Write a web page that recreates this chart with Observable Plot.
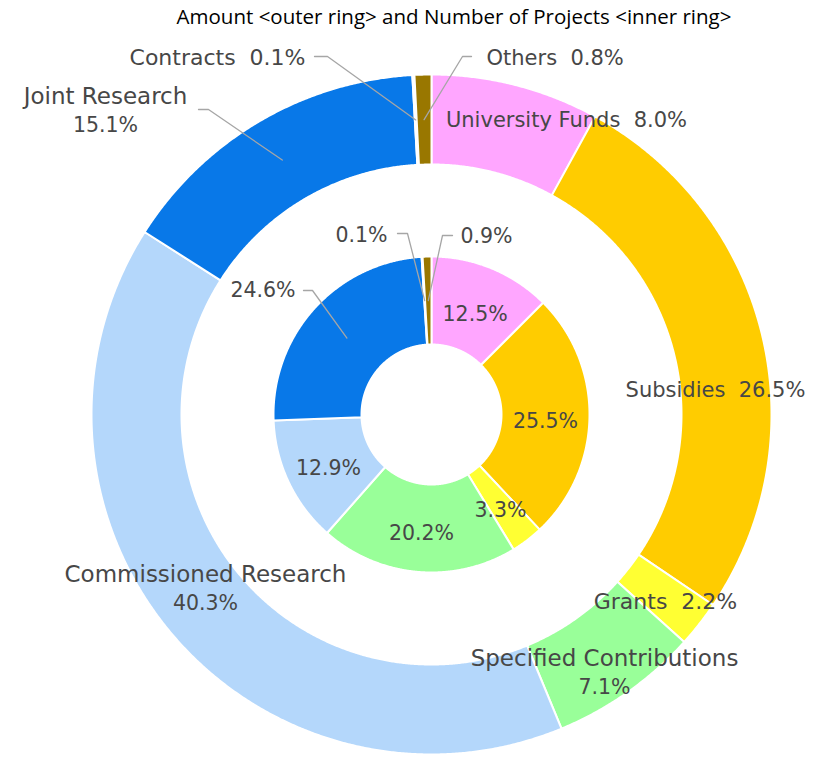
<!DOCTYPE html>
<html><head><meta charset="utf-8">
<script src="https://cdn.jsdelivr.net/npm/d3@7"></script>
<script src="https://cdn.jsdelivr.net/npm/@observablehq/plot@0.6"></script>
<style>body{margin:0;background:#fff} svg text{white-space:pre}</style>
</head><body><div id="chart"></div>
<script>
// ---- data ----
const title = "Amount <outer ring> and Number of Projects <inner ring>";
const categories = ["University Funds","Subsidies","Grants","Specified Contributions","Commissioned Research","Joint Research","Contracts","Others"];
const amountPct  = [8.0, 26.5, 2.2, 7.1, 40.3, 15.1, 0.1, 0.8];   // outer ring
const projectPct = [12.5, 25.5, 3.3, 20.2, 12.9, 24.6, 0.1, 0.9]; // inner ring
const sliceColors = ["#FFA6FF","#FFCC00","#FFFF33","#99FF99","#B4D7FB","#0878E8","#FFFFFF","#997700"];

// ---- layout ----
const W = 825, H = 757, cx = 431, cy = 414;
const outerR = [250, 340], innerR = [70, 158];
const textColor = "#474747", leaderColor = "#A6A6A6";
const FONT = "DejaVu Sans";
const NUM_FS = 20.5;

const outerLayout = [
  {twoLine:false, x:566, y:120, anchor:"middle", fs:21},
  {twoLine:false, x:715, y:390, anchor:"middle", fs:21},
  {twoLine:false, x:665, y:601, anchor:"middle", fs:22},
  {twoLine:true,  x:604, y:673, anchor:"middle", fs:23},
  {twoLine:true,  x:205, y:589, anchor:"middle", fs:23},
  {twoLine:true,  x:105, y:111, anchor:"middle", fs:23, leader:[[198,109],[208,109]]},
  {twoLine:false, x:305, y:57, anchor:"end", fs:22, leader:[[314,56],[327,56]]},
  {twoLine:false, x:486, y:58, anchor:"start", fs:21, leader:[[471,56],[462,56]]}
];
const innerLayout = [
  {}, {}, {}, {}, {},
  {x:295, y:290, anchor:"end", leader:[[303,290],[312,290]]},
  {x:387, y:235, anchor:"end", leader:[[397,233],[407,233]]},
  {x:460, y:236, anchor:"start", leader:[[452,235],[442,235]]}
];

function ring(values, radii, name) {
  const arcs = d3.pie().sort(null).value(d => d)(values);
  const [r0, r1] = radii;
  const pts = [], cents = [];
  arcs.forEach((a, i) => {
    const n = Math.max(2, Math.ceil((a.endAngle - a.startAngle) / 0.005));
    const ts = d3.range(n + 1).map(k => a.startAngle + (a.endAngle - a.startAngle) * k / n);
    const key = name + i, color = sliceColors[i];
    ts.forEach(t => pts.push({key, color, x: cx + r1 * Math.sin(t), y: cy - r1 * Math.cos(t)}));
    ts.slice().reverse().forEach(t => pts.push({key, color, x: cx + r0 * Math.sin(t), y: cy - r0 * Math.cos(t)}));
    pts.push({...pts[pts.length - 2 * (n + 1)]});
    const m = (a.startAngle + a.endAngle) / 2, rm = (r0 + r1) / 2;
    cents.push({i, x: cx + rm * Math.sin(m), y: cy - rm * Math.cos(m)});
  });
  return {pts, cents};
}

const outer = ring(amountPct, outerR, "o");
const inner = ring(projectPct, innerR, "i");

const outerLabels = [];
categories.forEach((c, i) => {
  const L = outerLayout[i], v = `${amountPct[i].toFixed(1)}%`;
  if (L.twoLine) {
    outerLabels.push({text: c, x: L.x, y: L.y - 15, anchor: L.anchor, fs: L.fs});
    outerLabels.push({text: v, x: L.x, y: L.y + 14, anchor: L.anchor, fs: NUM_FS});
  } else {
    outerLabels.push({text: `${c}  ${v}`, x: L.x, y: L.y, anchor: L.anchor, fs: L.fs});
  }
});
const innerLabels = categories.map((c, i) => {
  const L = innerLayout[i];
  const t = `${projectPct[i].toFixed(1)}%`;
  if (L.x !== undefined) return {text: t, x: L.x, y: L.y, anchor: L.anchor, fs: NUM_FS};
  return {text: t, x: inner.cents[i].x, y: inner.cents[i].y + 5, anchor: "middle", fs: NUM_FS};
});
const allLabels = outerLabels.concat(innerLabels);

const leaders = [];
outerLayout.forEach((L, i) => { if (L.leader) {
  [...L.leader, [outer.cents[i].x, outer.cents[i].y]].forEach(p => leaders.push({key:"o"+i, x:p[0], y:p[1]}));
}});
innerLayout.forEach((L, i) => { if (L.leader) {
  [...L.leader, [inner.cents[i].x, inner.cents[i].y]].forEach(p => leaders.push({key:"i"+i, x:p[0], y:p[1]}));
}});

const sizes = Array.from(new Set(allLabels.map(d => d.fs)));
const anchors = ["middle", "start", "end"];
const textMarks = [];
for (const a of anchors) for (const s of sizes) {
  const sub = allLabels.filter(d => d.anchor === a && d.fs === s);
  if (sub.length) textMarks.push(Plot.text(sub, {
    x: "x", y: "y", text: "text", textAnchor: a, fontSize: s, fontFamily: FONT, fill: textColor
  }));
}

const chart = Plot.plot({
  width: W, height: H, margin: 0,
  x: {domain: [0, W], range: [0, W], axis: null},
  y: {domain: [0, H], range: [0, H], axis: null},
  color: {type: "identity"},
  marks: [
    Plot.line(outer.pts, {x: "x", y: "y", z: "key", fill: "color", stroke: "white", strokeWidth: 2, curve: "linear"}),
    Plot.line(inner.pts, {x: "x", y: "y", z: "key", fill: "color", stroke: "white", strokeWidth: 2, curve: "linear"}),
    Plot.line(leaders, {x: "x", y: "y", z: "key", stroke: leaderColor, strokeWidth: 1.3}),
    ...textMarks,
    Plot.text([title], {frameAnchor: "top", dx: 41, dy: 17, text: d => d, fontSize: 20.5,
      fontFamily: "Open Sans", fill: "#000", lineAnchor: "middle"})
  ]
});
document.getElementById("chart").appendChild(chart);
</script></body></html>
